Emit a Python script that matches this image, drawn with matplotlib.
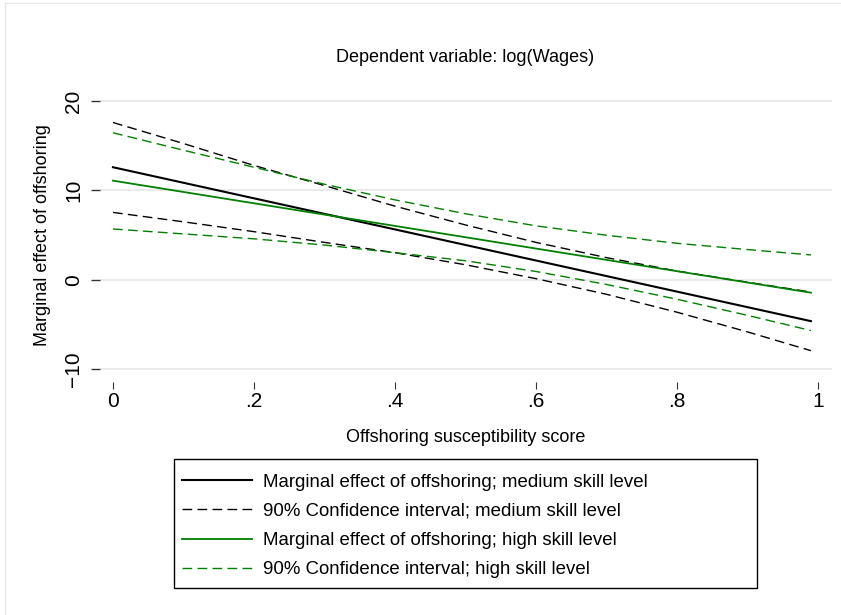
import matplotlib
matplotlib.use("Agg")
import matplotlib.pyplot as plt
from matplotlib.lines import Line2D
from matplotlib.patches import Rectangle

plt.rcParams['font.family'] = ['Liberation Sans', 'DejaVu Sans']

# offshoring susceptibility score (x) and values
x_ends = [0, 0.99]
med_effect = [12.6, -4.6]
high_effect = [11.1, -1.42]

x_ci = [0, .1, .2, .3, .4, .5, .6, .7, .8, .9, .99]
med_upper = [17.6, 15.25, 12.8, 10.55, 8.25, 6.15, 4.2, 2.5, 1.0, -0.25, -1.35]
med_lower = [7.55, 6.5, 5.4, 4.2, 3.05, 1.7, 0.15, -1.6, -3.6, -5.8, -7.9]
high_upper = [16.45, 14.5, 12.6, 10.7, 8.95, 7.4, 6.05, 5.0, 4.1, 3.4, 2.8]
high_lower = [5.7, 5.15, 4.6, 3.9, 3.05, 2.15, 0.95, -0.5, -2.15, -3.95, -5.65]

x_ticks = [0, .2, .4, .6, .8, 1]
x_ticklabels = ["0", ".2", ".4", ".6", ".8", "1"]
y_ticks = [-10, 0, 10, 20]
y_ticklabels = ["\u221210", "0", "10", "20"]

labels = ["Marginal effect of offshoring; medium skill level",
          "90% Confidence interval; medium skill level",
          "Marginal effect of offshoring; high skill level",
          "90% Confidence interval; high skill level"]

W, H = 841, 615
fig = plt.figure(figsize=(W / 100, H / 100), dpi=100)

# faint outer frame (cropped at right and bottom)
fig.add_artist(Line2D([5 / W, 1], [1 - 3 / H, 1 - 3 / H], color='#e6e6e6', lw=1))
fig.add_artist(Line2D([5 / W, 5 / W], [0, 1 - 3 / H], color='#e6e6e6', lw=1))

# plot region in pixels: x 100..832, y 90..382
ax = fig.add_axes([100 / W, (H - 382) / H, 732 / W, 292 / H])
ax.set_xlim(-0.0184, 1.0199)
ax.set_ylim(-11.40, 21.23)
for s in ax.spines.values():
    s.set_visible(False)

for yv in y_ticks:
    ax.axhline(yv, color='#eaeaea', lw=1.5, zorder=0)

green = '#008000'
dash = (7, 3.8)
l1, = ax.plot(x_ends, med_effect, color='black', lw=1.5)
l2, = ax.plot(x_ci, med_upper, color='black', lw=1.0, dashes=dash)
ax.plot(x_ci, med_lower, color='black', lw=1.0, dashes=dash)
l3, = ax.plot(x_ends, high_effect, color=green, lw=1.3)
l4, = ax.plot(x_ci, high_upper, color=green, lw=1.0, dashes=dash)
ax.plot(x_ci, high_lower, color=green, lw=1.0, dashes=dash)

ax.set_xticks(x_ticks, x_ticklabels, fontsize=15)
ax.set_yticks(y_ticks, y_ticklabels, fontsize=15, rotation=90, va='center')
ax.tick_params(axis='x', length=5, width=0.8, color='#333333', pad=2)
ax.tick_params(axis='y', length=6.2, width=1.0, color='#333333', pad=6)

fig.text(465 / W, 1 - 57 / H, "Dependent variable: log(Wages)",
         ha='center', va='center', fontsize=13)
fig.text(465.5 / W, 1 - 437 / H, "Offshoring susceptibility score",
         ha='center', va='center', fontsize=13)
fig.text(43 / W, 1 - 235.5 / H, "Marginal effect of offshoring",
         ha='center', va='center', rotation=90, fontsize=13)

# legend box drawn separately so its width matches the reference
fig.add_artist(Rectangle((174 / W, (H - 588) / H), 583 / W, 129 / H,
                         transform=fig.transFigure, facecolor='white',
                         edgecolor='black', lw=1.0))
fig.legend([l1, l2, l3, l4], labels, loc='upper left',
           bbox_to_anchor=(182 / W, 1 - 473.5 / H), frameon=False,
           borderaxespad=0, borderpad=0, fontsize=13.4, handlelength=3.75,
           handletextpad=0.6, labelspacing=0.66)

fig.savefig("out.png", dpi=100)
